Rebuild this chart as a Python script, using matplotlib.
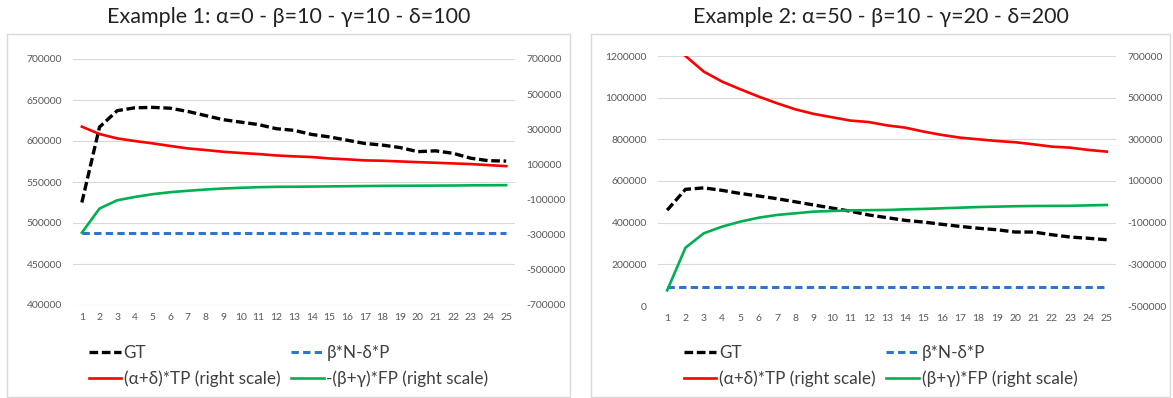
import numpy as np
import matplotlib
matplotlib.use("Agg")
import matplotlib.pyplot as plt
from matplotlib.patches import Rectangle
from matplotlib.ticker import FuncFormatter

plt.rcParams["font.family"] = ["Lato", "DejaVu Sans"]

steps = list(range(1, 26))

# Example 1 (GT and beta*N-delta*P on left scale, the rest on right scale)
gt_1 = [525000, 617000, 637000, 640500, 641000, 640000, 636000, 631000, 626000,
        623000, 620000, 615000, 613000, 608000, 605000, 601000, 597000, 595000,
        592000, 587000, 588000, 585000, 579000, 576000, 575500]
base_1 = [488000] * 25
tp_1 = [315000, 273000, 248000, 233000, 220000, 205000, 191000, 182000, 172000,
        165000, 159000, 151000, 146000, 142000, 134000, 129000, 123000, 121000,
        117000, 113000, 109500, 105700, 102000, 96000, 90500]
fp_1 = [-288600, -151000, -104000, -85000, -69500, -58000, -50000, -43000, -37000,
        -33000, -29500, -27500, -27000, -26000, -25000, -24000, -23000, -22000,
        -21500, -21000, -20500, -20000, -19000, -18500, -18000]

# Example 2 (first TP value is off the top of the right scale)
gt_2 = [460000, 560000, 567000, 555000, 540000, 528000, 515000, 500000, 485000,
        470000, 455000, 437000, 424000, 411000, 403000, 392000, 382000, 373000,
        366000, 355000, 355000, 342000, 331000, 325000, 318000]
base_2 = [91000] * 25
tp_2 = [np.nan, 700000, 625000, 577000, 540000, 505000, 473000, 444000, 422000,
        406000, 390000, 383000, 367000, 356000, 337000, 321000, 308000, 300000,
        292000, 286000, 276000, 265000, 260000, 249000, 241000]
fp_2 = [-425000, -220000, -151000, -119000, -95000, -76000, -63000, -55000, -47000,
        -44000, -41000, -40000, -39000, -36000, -34000, -31000, -28000, -25000,
        -23000, -21000, -20000, -19500, -19000, -17000, -15000]

titles = ["Example 1: α=0 - β=10 - γ=10 - δ=100",
          "Example 2: α=50 - β=10 - γ=20 - δ=200"]
fp_labels = ["-(β+γ)*FP (right scale)", "(β+γ)*FP (right scale)"]

W, H = 1173, 398
fig = plt.figure(figsize=(W / 100, H / 100), dpi=100)

GRID = "#D9D9D9"
TICK = "#595959"


def px_rect(x0, y0, x1, y1):
    return [x0 / W, 1 - y1 / H, (x1 - x0) / W, (y1 - y0) / H]


panels = [
    dict(frame=(7, 34, 570, 397), axes=(73, 59, 515, 305),
         left=(400000, 700000, 50000), right=(-700000, 700000, 200000),
         gt=gt_1, base=base_1, tp=tp_1, fp=fp_1),
    dict(frame=(591, 34, 1170, 397), axes=(658, 56, 1116, 306),
         left=(0, 1200000, 200000), right=(-500000, 700000, 200000),
         gt=gt_2, base=base_2, tp=tp_2, fp=fp_2),
]

for i, p in enumerate(panels):
    fx0, fy0, fx1, fy1 = p["frame"]
    fig.patches.append(Rectangle((fx0 / W, 1 - fy1 / H), (fx1 - fx0) / W, (fy1 - fy0) / H,
                                 transform=fig.transFigure, facecolor="none",
                                 edgecolor=GRID, lw=1, zorder=-1))
    fig.text((fx0 + fx1) / 2 / W, 1 - 17 / H, titles[i], ha="center", va="center",
             fontsize=15.5, color="#222222")

    ax = fig.add_axes(px_rect(*p["axes"]))
    ax2 = ax.twinx()
    lo, hi, st = p["left"]
    ax.set_ylim(lo, hi)
    ax.set_yticks(np.arange(lo, hi + 1, st))
    rlo, rhi, rst = p["right"]
    ax2.set_ylim(rlo, rhi)
    ax2.set_yticks(np.arange(rlo, rhi + 1, rst))
    ax.set_xlim(0.5, 25.5)
    ax.set_xticks(steps)
    ax.grid(axis="y", color=GRID, lw=0.8)
    ax.set_axisbelow(True)
    for a in (ax, ax2):
        for s in a.spines.values():
            s.set_visible(False)
        a.tick_params(length=0, labelsize=7.5, labelcolor=TICK)
        a.set_facecolor("none")
        a.yaxis.set_major_formatter(FuncFormatter(lambda v, _: f"{int(v)}"))
    ax.tick_params(axis="y", pad=8)
    ax2.tick_params(axis="y", pad=8)
    ax.tick_params(axis="x", pad=6)

    h_gt, = ax.plot(steps, p["gt"], color="black", lw=2.4, dashes=(2.6, 1.1), label="GT")
    h_base, = ax.plot(steps, p["base"], color="#2E75D0", lw=2.2, dashes=(2.4, 1.4),
                      label="β*N-δ*P")
    h_tp, = ax2.plot(steps, p["tp"], color="#FF0000", lw=1.9, label="(α+δ)*TP (right scale)")
    h_fp, = ax2.plot(steps, p["fp"], color="#00B050", lw=1.9, label=fp_labels[i])

    fig.legend(handles=[h_gt, h_tp, h_base, h_fp], ncol=2, frameon=False,
               loc="center", bbox_to_anchor=((fx0 + fx1) / 2 / W, 1 - 366 / H),
               fontsize=12.3, handlelength=1.9, handletextpad=0.15,
               columnspacing=0.65, labelspacing=0.5, labelcolor="#404040")

fig.savefig("out.png", dpi=100, facecolor="white")
